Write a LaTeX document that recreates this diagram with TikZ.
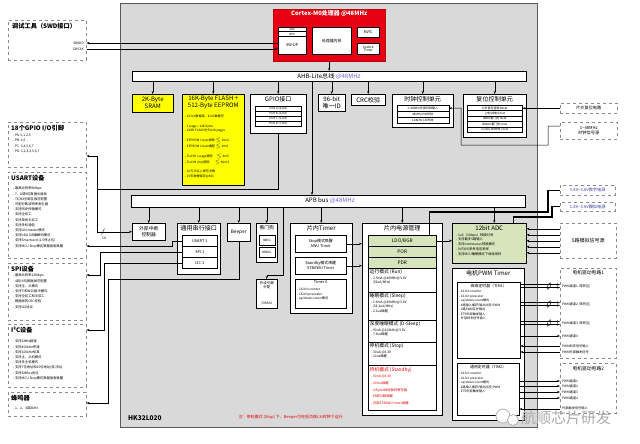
\documentclass[tikz,border=0pt]{standalone}
\usepackage{fontspec}
\setmainfont{Noto Sans CJK SC}
\usetikzlibrary{arrows.meta,positioning,calc}
\definecolor{chipgray}{HTML}{D9D9D9}
\definecolor{chipedge}{HTML}{5A5A5A}
\definecolor{cortexred}{HTML}{E60012}
\definecolor{memyellow}{HTML}{FFFF00}
\definecolor{anagreen}{HTML}{D8E4BC}
\definecolor{freqblue}{HTML}{6F63D6}
\definecolor{pwrblue}{HTML}{3B3B9E}
\definecolor{notered}{HTML}{E00000}
\definecolor{devgray}{HTML}{8A8A8A}
\newcommand{\ttlfont}{\fontsize{6.1pt}{7pt}\selectfont}
\newcommand{\devfont}{\fontsize{6.2pt}{7pt}\selectfont\bfseries}
\newcommand{\lstfont}{\fontsize{3.3pt}{5.2pt}\selectfont}
\newcommand{\subfont}{\fontsize{3.9pt}{4.8pt}\selectfont}
\newcommand{\modefont}{\fontsize{4.8pt}{5.6pt}\selectfont}

\begin{document}
\begin{tikzpicture}[x=1pt, y=-1pt,
    box/.style={draw, fill=white, line width=0.5pt, inner sep=0pt},
    wh/.style 2 args={minimum width=#1, minimum height=#2},
    nw/.style={anchor=north west},
    dev/.style={draw=devgray, dashed, fill=white, line width=0.5pt, inner sep=0pt, anchor=north west},
    devttl/.style={font=\devfont, anchor=north west, inner sep=0pt},
    ttl/.style={font=\ttlfont, inner sep=1pt, align=center},
    lst/.style={font=\lstfont, inner sep=0pt, align=left, anchor=north west},
    arr/.style={-{Stealth[length=3pt,width=2.2pt]}, line width=0.5pt},
    pwrline/.style={line width=1.4pt},
    green/.style={box, fill=anagreen},
    yellowbox/.style={box, fill=memyellow}
]
\useasboundingbox (0,0) rectangle (640,444);

% chip outline
\node[nw, draw=chipedge, fill=chipgray, line width=1.3pt, wh={417pt}{424pt}] (mcu) at (120,3) {};
\node[font=\fontsize{6.5pt}{7pt}\selectfont\bfseries, anchor=south west, inner sep=0pt] (partno) at (128,421) {HK32L020};

% Cortex-M0 core
\node[nw, fill=cortexred, draw=cortexred!80!black, wh={112pt}{52pt}] (m0) at (273,9) {};
\node[font=\fontsize{5.9pt}{6.5pt}\selectfont\bfseries, text=white, below=1.5pt of m0.north, inner sep=0pt] (m0t) {Cortex-M0处理器 @48MHz};
\node[box, nw, wh={28pt}{4.5pt}, font=\fontsize{2.8pt}{3pt}\selectfont] (dap) at (278,27) {DAP};
\node[box, nw, wh={28pt}{4.5pt}, font=\fontsize{2.8pt}{3pt}\selectfont] (bpu) at (278,31.5) {BPU};
\node[box, nw, wh={28pt}{18pt}, font=\subfont] (swdp) at (278,36) {SW-DP};
\node[box, nw, wh={39pt}{27pt}, font=\subfont] (core) at (312,27) {处理器内核};
\node[box, nw, wh={22pt}{10pt}, font=\subfont] (nvic) at (357,27) {NVIC};
\node[box, nw, wh={22pt}{11pt}, font=\fontsize{3.3pt}{3.8pt}\selectfont, align=center] (systick) at (357,43) {Systick\\Timer};

% debug tool
\node[dev, wh={78pt}{40pt}] (swd) at (8,20) {};
\node[devttl] at ([shift={(4pt,-3pt)}]swd.north west) {调试工具（SWD接口）};
\node[font=\lstfont, anchor=east, inner sep=0pt] (swdio) at (84,43) {SWDIO};
\node[font=\lstfont, anchor=east, inner sep=0pt] (swclk) at (84,49) {SWCLK};
\draw[arr] (swdp.west |- swdio) -- (swdio -| swd.east);
\draw[arr] (swclk -| swd.east) -- (swclk -| swdp.west);

% AHB bus
\node[box, nw, wh={394pt}{10pt}] (ahb) at (132,71) {};
\node[font=\ttlfont, inner sep=0pt] (ahbt) at (329,76) {AHB-Lite总线 \textcolor{freqblue}{@48MHz}};
\draw[arr] (m0.south) -- (m0.south |- ahb.north);

% AHB slaves
\node[yellowbox, nw, wh={41pt}{18pt}, font=\ttlfont, align=center] (sram) at (132,94) {2K-Byte\\SRAM};
\node[yellowbox, nw, wh={62pt}{91pt}] (flash) at (182,94) {};
\node[ttl, below=1pt of flash.north] (flasht) {16K-Byte FLASH +\\512-Byte EEPROM};
\node[lst, font=\fontsize{3.1pt}{4.5pt}\selectfont] at (185,115) {- 32-bit数据读、8-bit数据写\\[5pt]
  - 1 page = 128 bytes\\- 16KB FLASH分为128 pages\\[5pt]
  - EEPROM 1 byte擦除 $\le$ 20uS\\- EEPROM 1 byte编程 $\le$ 4mS\\[5pt]
  - FLASH 1 page擦除 \quad $\le$ 4mS\\- FLASH chip擦除 \quad\; $\le$ 40mS\\[5pt]
  - 10万次以上擦写次数\\- 10年数据保存@85C};

\node[box, nw, wh={56pt}{39pt}] (gpio) at (250,94) {};
\node[ttl, below=1pt of gpio.north] (gpiot) {GPIO接口};
\foreach \p/\b [count=\i from 0] in {A/4,B/2,C/5,D/7}
  \node[box, nw, wh={46pt}{5pt}, font=\fontsize{3pt}{3pt}\selectfont] (port\p) at (255,106+5*\i) {Port \p\ (\b-bit)};

\node[box, nw, wh={27pt}{17pt}, font=\ttlfont, align=center] (uid) at (318,94) {96-bit\\唯一ID};
\node[box, nw, wh={34pt}{11pt}, font=\ttlfont] (crc) at (351,94) {CRC校验};

\node[box, nw, wh={61pt}{33pt}] (clk) at (392,94) {};
\node[ttl, below=1pt of clk.north] (clkt) {时钟控制单元};
\foreach \txt [count=\i from 0] in {1\textasciitilde48MHz外部时钟输入, 48MHz HSI时钟, 128kHz LSI时钟}
  \node[box, nw, wh={52pt}{6pt}, font=\fontsize{3pt}{3pt}\selectfont] (clk\i) at (396.5,105+6*\i) {\txt};

\node[box, nw, wh={63pt}{43pt}] (rst) at (463,94) {};
\node[ttl, below=1pt of rst.north] (rstt) {复位控制单元};
\foreach \txt [count=\i from 0] in {片外复位管脚 Reset, 上电/掉电 Reset, IWDG看门狗 reset, WWDG看门狗 reset, Cortex-M0软件 reset}
  \node[box, nw, wh={55pt}{5.4pt}, font=\fontsize{2.9pt}{3pt}\selectfont] (rst\i) at (467,105+5.4*\i) {\txt};

\foreach \s in {sram,flash,gpio,uid,crc,clk,rst}
  \draw[arr] (ahb.south -| \s.north) -- (\s.north);

% off-chip reset and clock
\node[dev, wh={57pt}{10pt}, font=\fontsize{4.2pt}{5pt}\selectfont] (extrst) at (560,103) {片外复位电路};
\node[dev, wh={57pt}{17pt}, font=\fontsize{4.2pt}{5pt}\selectfont, align=center] (extclk) at (560,122) {1\textasciitilde48MHz\\时钟信号源};
\draw[arr] (extrst.west) -- (extrst.west -| rst0.east);
\draw[arr] (extclk.west |- 0,126) -| (548,145) -| (461,108) -- (clk0.east);

% AHB to APB bridge
\coordinate (brg) at (312,81);

% APB bus
\node[box, nw, wh={394pt}{12pt}] (apb) at (131,195) {};
\node[font=\ttlfont, inner sep=0pt] (apbt) at (330,201) {APB bus \textcolor{freqblue}{@48MHz}};
\draw[arr] (brg) -- (brg |- apb.north);

% APB peripherals
\node[box, nw, wh={33pt}{17pt}, font=\fontsize{4.8pt}{5.8pt}\selectfont, align=center] (exti) at (132,223) {外部中断\\控制器};
\node[box, nw, wh={43pt}{51pt}] (ser) at (177,223) {};
\node[ttl, below=1pt of ser.north] (sert) {通用串行接口};
\node[box, nw, wh={35pt}{11pt}, font=\subfont] (u1) at (182,235) {USART 1};
\node[box, nw, wh={35pt}{11pt}, font=\subfont] (s1) at (182,246) {SPI 1};
\node[box, nw, wh={35pt}{11pt}, font=\subfont] (i1) at (182,257) {I2C 1};
\node[box, nw, wh={23pt}{18pt}, font=\fontsize{4.8pt}{5.8pt}\selectfont] (beep) at (227,223) {Beeper};
\node[box, nw, wh={21pt}{39pt}] (wdg) at (256,223) {};
\node[ttl, font=\fontsize{4.8pt}{5.8pt}\selectfont, below=1pt of wdg.north] (wdgt) {看门狗};
\node[box, nw, wh={16pt}{10pt}, font=\fontsize{3pt}{3pt}\selectfont] (iwdg) at (258.5,235) {IWDG};
\node[box, nw, wh={16pt}{10pt}, font=\fontsize{3pt}{3pt}\selectfont] (wwdg) at (258.5,247) {WWDG};
\node[box, nw, wh={21pt}{29pt}] (mux) at (256,279) {};
\node[font=\fontsize{3.5pt}{4.3pt}\selectfont, align=center, below=2pt of mux.north, inner sep=0pt] (muxt) {外设引脚\\分配};
\node[font=\fontsize{3.3pt}{4pt}\selectfont, above=4pt of mux.south, inner sep=0pt] (muxn) {IOMUX};

% on-chip timers
\node[box, nw, wh={62pt}{90pt}] (tmr) at (290,223) {};
\node[ttl, below=1pt of tmr.north] (tmrt) {片内Timer};
\node[box, nw, wh={51pt}{17pt}, font=\subfont, align=center] (awu) at (295,235) {Stop模式唤醒\\AWU Timer};
\node[box, nw, wh={51pt}{17pt}, font=\subfont, align=center] (stb) at (295,257) {Standby模式唤醒\\STBAWU Timer};
\node[box, nw, wh={51pt}{29pt}] (t6) at (295,279) {};
\node[font=\subfont, below=1.5pt of t6.north, inner sep=0pt] (t6t) {Timer 6};
\node[lst, font=\fontsize{3.2pt}{4.6pt}\selectfont] at (297,288) {- 16-bit counter\\- 16-bit prescaler\\- up/down count模式};

% power management
\node[box, nw, wh={80pt}{192pt}] (pwr) at (362,223) {};
\node[ttl, below=1pt of pwr.north] (pwrt) {片内电源管理};
\node[green, nw, wh={68pt}{11pt}, font=\modefont] (ldo) at (368,235) {LDO/BGR};
\node[green, nw, wh={68pt}{11pt}, font=\modefont] (por) at (368,246) {POR};
\node[green, nw, wh={68pt}{11pt}, font=\modefont] (pdr) at (368,257) {PDR};
\node[box, nw, wh={68pt}{24pt}] (run) at (368,268) {};
\node[box, nw, wh={68pt}{28pt}] (sleep) at (368,292) {};
\node[box, nw, wh={68pt}{22pt}] (dslp) at (368,320) {};
\node[box, nw, wh={68pt}{23pt}] (stop) at (368,342) {};
\node[box, nw, wh={68pt}{45pt}] (stby) at (368,365) {};
\node[lst, font=\modefont] (runt) at ([shift={(1.5pt,-1.5pt)}]run.north west) {运行模式 (Run)};
\node[lst, font=\fontsize{3.3pt}{4.6pt}\selectfont] at ([shift={(3pt,-8.5pt)}]run.north west) {- 2.5mA @48MHz@3.3V\\\ \ (52uA/MHz)};
\node[lst, font=\modefont] (sleept) at ([shift={(1.5pt,-1.5pt)}]sleep.north west) {睡眠模式 (Sleep)};
\node[lst, font=\fontsize{3.3pt}{4.6pt}\selectfont] at ([shift={(3pt,-8.5pt)}]sleep.north west) {- 1.6mA @48MHz@3.3V\\\ \ (33.3uA/MHz)\\- 2.1us唤醒};
\node[lst, font=\modefont] (dslpt) at ([shift={(1.5pt,-1.5pt)}]dslp.north west) {深度睡眠模式 (D-Sleep)};
\node[lst, font=\fontsize{3.3pt}{4.6pt}\selectfont] at ([shift={(3pt,-8.5pt)}]dslp.north west) {- 90uA @128kHz@3.3V\\- 7.8us唤醒};
\node[lst, font=\modefont] (stopt) at ([shift={(1.5pt,-1.5pt)}]stop.north west) {停机模式 (Stop)};
\node[lst, font=\fontsize{3.3pt}{4.6pt}\selectfont] at ([shift={(3pt,-8.5pt)}]stop.north west) {- 30uA @3.3V\\- 10us唤醒};
\node[lst, font=\modefont, text=notered] (stbyt) at ([shift={(1.5pt,-2pt)}]stby.north west) {待机模式 (Standby)};
\node[lst, font=\fontsize{3.3pt}{6.7pt}\selectfont, text=notered] at ([shift={(3pt,-10pt)}]stby.north west) {- 50nA @3.3V\\- 200us唤醒\\- 4 Bytes掉电保持寄存器\\- 外部引脚唤醒\\- 内部STBAWU timer唤醒};

\draw[arr] (awu.east) -- (awu.east -| pwr.west);
\draw[arr] (stb.east) -- (stb.east -| pwr.west);

% ADC
\node[green, nw, wh={74pt}{40pt}] (adc) at (452,223) {};
\node[ttl, below=1pt of adc.north] (adct) {12bit ADC};
\node[lst, font=\fontsize{3.3pt}{4.9pt}\selectfont] at (456,233) {- 1uS（1Msps）转换时间\\- 支持最多5路输入\\- 支持continuous转换模式\\- 片内BG参考电压采样\\- 支持MCU睡眠模式下继续采样};
\draw[arr] (ldo.east) -- (ldo.east -| adc.west);

% motor PWM timer
\node[box, nw, wh={72pt}{152pt}] (pwm) at (452,268) {};
\node[ttl, below=1pt of pwm.north] (pwmt) {电机PWM Timer};
\node[box, nw, wh={63pt}{76pt}] (tim1) at (457,282) {};
\node[font=\subfont, below=1.5pt of tim1.north, inner sep=0pt] (tim1t) {高级定时器（TIM1）};
\node[lst, font=\fontsize{3.1pt}{4.5pt}\selectfont] at (459,290) {- 16-bit counter\\- 16-bit prescaler\\- up/down count模式\\- 4路输入捕获/输出比较/PWM\\- 3路PWM互补输出\\- ETR外部触发输入\\- 外部刹车信号输入};
\node[box, nw, wh={62pt}{52pt}] (tim2) at (457,363) {};
\node[font=\subfont, below=2pt of tim2.north, inner sep=0pt] (tim2t) {通用定时器（TIM2）};
\node[lst, font=\fontsize{3.1pt}{4.5pt}\selectfont] at (459,372) {- 16-bit counter\\- 16-bit prescaler\\- up/down count模式\\- 4路输入捕获/输出比较/PWM\\- ETR外部触发输入};

% APB taps
\foreach \s in {exti,ser,beep,wdg,tmr,pwr}
  \draw[arr] (apb.south -| \s.north) -- (\s.north);
\draw[arr] (apb.south -| adc.north) ++(5,0) -- ([xshift=5pt]adc.north);
\coordinate (muxtap) at (283,0);
\draw[arr] (apb.south -| muxtap) |- ([yshift=4pt]mux.north) -- (mux.north);

% supplies
\node[dev, wh={55pt}{10pt}, font=\fontsize{4.2pt}{5pt}\selectfont, text=pwrblue] (vdig) at (560,185) {1.8V\textasciitilde3.6V数字电源};
\node[dev, wh={55pt}{9pt}, font=\fontsize{4.2pt}{5pt}\selectfont, text=pwrblue] (vana) at (560,202) {1.8V\textasciitilde3.6V模拟电源};
\draw[pwrline] (vdig.west) -| (548,212) -| ([xshift=27pt]ldo.north);
\draw[pwrline] (vana.west) -| (552,217) -| ([xshift=24pt]adc.north);

% analog inputs
\node[dev, wh={56pt}{35pt}, font=\fontsize{5pt}{6pt}\selectfont] (sig) at (560,223) {5路模拟信号源};
\foreach \dy in {-12,-6,0,6,12}
  \draw[arr] ([yshift=\dy pt]sig.west) -- ([yshift=\dy pt]sig.west -| adc.east);

% motor drivers
\node[dev, wh={56pt}{90pt}] (mdrv1) at (560,268) {};
\node[font=\fontsize{4.8pt}{5.6pt}\selectfont, below=2pt of mdrv1.north, inner sep=0pt] (mdrv1t) {电机驱动电路1};
\foreach \cy/\n in {286/1,304/2,323/3} {
  \draw[arr] (tim1.east |- 0,\cy-1.5) -- (mdrv1.west |- 0,\cy-1.5);
  \draw[arr] (tim1.east |- 0,\cy+1.5) -- (mdrv1.west |- 0,\cy+1.5);
  \draw[rotate around={-25:(549,\cy)}] (549,\cy) ellipse (1.3 and 3.6);
  \node[font=\fontsize{3.2pt}{4pt}\selectfont, anchor=west, inner sep=0pt] at (562,\cy) {PWM通道\n\ (带死区)};
}
\draw[arr] (tim1.east |- 0,336) -- (mdrv1.west |- 0,336);
\node[font=\fontsize{3.2pt}{4pt}\selectfont, anchor=west, inner sep=0pt] at (562,336) {PWM通道4};
\draw[arr] (mdrv1.west |- 0,346) -- (tim1.east |- 0,346);
\node[font=\fontsize{3.2pt}{4pt}\selectfont, anchor=west, inner sep=0pt] at (562,346) {PWM刹车信号输入};
\draw[arr] (mdrv1.west |- 0,352) -- (tim1.east |- 0,352);
\node[font=\fontsize{3.2pt}{4pt}\selectfont, anchor=west, inner sep=0pt] at (562,352) {PWM外部触发信号};

\node[dev, wh={56pt}{50pt}] (mdrv2) at (560,363) {};
\node[font=\fontsize{4.8pt}{5.6pt}\selectfont, below=3pt of mdrv2.north, inner sep=0pt] (mdrv2t) {电机驱动电路2};
\foreach \cy/\n in {381/1,386/2,392/3,398/4} {
  \draw[arr] (tim2.east |- 0,\cy) -- (mdrv2.west |- 0,\cy);
  \node[font=\fontsize{3.2pt}{4pt}\selectfont, anchor=west, inner sep=0pt] at (562,\cy) {PWM通道\n};
}
\draw[arr] (mdrv2.west |- 0,409) -- (tim2.east |- 0,409);
\node[font=\fontsize{3.2pt}{4pt}\selectfont, anchor=west, inner sep=0pt] at (562,408) {外部触发信号输入};

% left-side devices
\node[dev, wh={78pt}{45pt}] (gpiodev) at (8,122) {};
\node[devttl] at ([shift={(3pt,-3pt)}]gpiodev.north west) {18个GPIO I/O引脚};
\node[lst] at ([shift={(5pt,-12pt)}]gpiodev.north west) {- PA: 0,1,2,3\\- PB: 4,5\\- PC: 3,4,5,6,7\\- PD: 1,2,3,4,5,6,7};

\node[dev, wh={78pt}{86pt}] (usartdev) at (8,172) {};
\node[devttl] at ([shift={(3pt,-3pt)}]usartdev.north west) {USART设备};
\node[lst] at ([shift={(5pt,-15pt)}]usartdev.north west) {- 最高比特率6Mbps\\- 7、8或9位数据长度帧\\- TX/RX引脚互换可配置\\- 可配分数波特率发生器\\- 支持同步传输模式\\- 支持全双工\\- 支持单线半双工\\- 支持多机通信\\- 支持LIN master模式\\- 支持IrDA SIR编解码模式\\- 支持Smartcard (1.5停止位)\\- 支持MCU Stop模式数据接收唤醒};

\node[dev, wh={78pt}{57pt}] (spidev) at (8,263) {};
\node[devttl] at ([shift={(3pt,-3pt)}]spidev.north west) {SPI设备};
\node[lst] at ([shift={(5pt,-11pt)}]spidev.north west) {- 最高比特率12Mbps\\- 4到16位数据帧可配置\\- 支持主、从模式\\- 支持TI和NSS脉冲模式\\- 支持全双工和半双工\\- 数据帧的CRC校验\\- 支持I2S协议};

\node[dev, wh={78pt}{63pt}] (i2cdev) at (8,324) {};
\node[devttl] at ([shift={(3pt,-3pt)}]i2cdev.north west) {I²C设备};
\node[lst] at ([shift={(5pt,-16pt)}]i2cdev.north west) {- 支持1MHz超速\\- 支持400kHz快速\\- 支持100kHz标准\\- 支持主、从机模式\\- 支持多主机模式\\- 支持7位地址和10位地址(双)寻址\\- 支持SMBus协议\\- 支持MCU Stop模式数据接收唤醒};

\node[dev, wh={78pt}{24pt}] (buzzdev) at (8,392) {};
\node[devttl] at ([shift={(3pt,-3pt)}]buzzdev.north west) {蜂鸣器};
\node[lst] at ([shift={(5pt,-15pt)}]buzzdev.north west) {- 1、2、4或8kHz};

% pin connections
\coordinate (gpiobus) at (97,189);
\draw[arr] (gpio.south) |- (gpiobus) |- (gpiodev.east |- 0,156);
\draw[arr] (gpiobus) |- (exti.west);
\draw (101.5,234.5) -- (104.5,228.5);
\node[font=\lstfont, inner sep=0pt] at (104,238) {18};
\draw[arr] (u1.west) -- ++(-10,0) |- (usartdev.east |- 0,246);
\draw[arr] (s1.west) -| (100,275) -- (spidev.east |- 0,275);
\draw[arr] (i1.west) -| (104,330) -- (i2cdev.east |- 0,330);
\draw[arr] (beep.south) |- (108,279) |- (buzzdev.east |- 0,403);

% note and watermark
\node[font=\fontsize{4pt}{4.5pt}\selectfont, text=notered, anchor=east, inner sep=0pt] (note) at (343,417) {注：停机模式 (Stop) 下，Beeper可在低功耗LSI时钟下运行};
\draw[gray!60, fill=white, line width=0.8pt] (503,416) circle (7);
\draw[gray!60, fill=white, line width=0.8pt] (513,420) circle (5.5);
\node[font=\fontsize{15pt}{16pt}\selectfont, text=gray!65, anchor=west, inner sep=0pt] (mark) at (521,418) {航顺芯片研发};

\end{tikzpicture}
\end{document}
